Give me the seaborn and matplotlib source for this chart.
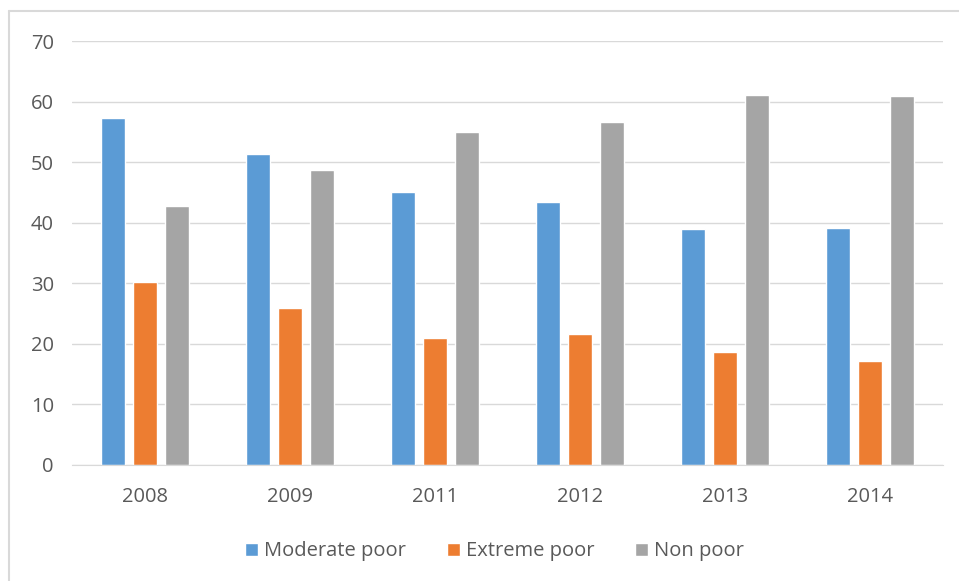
import pandas as pd
import matplotlib.pyplot as plt
import seaborn as sns
from matplotlib.lines import Line2D

# Data
years = ["2008", "2009", "2011", "2012", "2013", "2014"]
moderate_poor = [57.3, 51.3, 45.1, 43.4, 39.0, 39.1]
extreme_poor = [30.2, 25.9, 21.0, 21.6, 18.7, 17.2]
non_poor = [42.8, 48.7, 55.0, 56.6, 61.1, 60.9]
series_names = ["Moderate poor", "Extreme poor", "Non poor"]
colors = ["#5B9BD5", "#ED7D31", "#A5A5A5"]

df = pd.DataFrame({"Year": years,
                   "Moderate poor": moderate_poor,
                   "Extreme poor": extreme_poor,
                   "Non poor": non_poor})
long_df = df.melt(id_vars="Year", var_name="Group", value_name="Value")

sns.set_style("white")
plt.rcParams["font.family"] = ["Open Sans", "DejaVu Sans"]
text_color = "#595959"

fig = plt.figure(figsize=(9.59, 5.81), dpi=100)
ax = fig.add_axes([0.0751, 0.1997, 0.9082, 0.7297])

sns.barplot(data=long_df, x="Year", y="Value", hue="Group", hue_order=series_names,
            palette=colors, width=0.66, gap=0.25, saturation=1, ax=ax)

ax.set_ylim(0, 70)
ax.set_yticks(range(0, 71, 10))
ax.set_xlim(-0.5, len(years) - 0.5)
ax.grid(axis="y", color="#D9D9D9", linewidth=1)
ax.set_axisbelow(True)
for side in ["top", "right", "left"]:
    ax.spines[side].set_visible(False)
ax.spines["bottom"].set_color("#D9D9D9")
ax.tick_params(axis="both", length=0, labelsize=14.5, colors=text_color)
ax.tick_params(axis="x", pad=16)
ax.tick_params(axis="y", pad=13)
ax.set_xlabel("")
ax.set_ylabel("")

leg = ax.legend(loc="center", bbox_to_anchor=(0.485, -0.204), ncol=3, frameon=False,
                fontsize=14.5, handlelength=0.65, handleheight=0.65, handletextpad=0.3,
                columnspacing=2.0)
for t in leg.get_texts():
    t.set_color(text_color)

# outer chart border (only top and left edges fall inside the crop)
fig.add_artist(Line2D([9 / 959, 9 / 959], [0, 1 - 11 / 581], transform=fig.transFigure,
                      color="#D9D9D9", linewidth=1.5))
fig.add_artist(Line2D([9 / 959, 1], [1 - 11 / 581, 1 - 11 / 581], transform=fig.transFigure,
                      color="#D9D9D9", linewidth=1.5))

fig.savefig("out.png", dpi=100)
